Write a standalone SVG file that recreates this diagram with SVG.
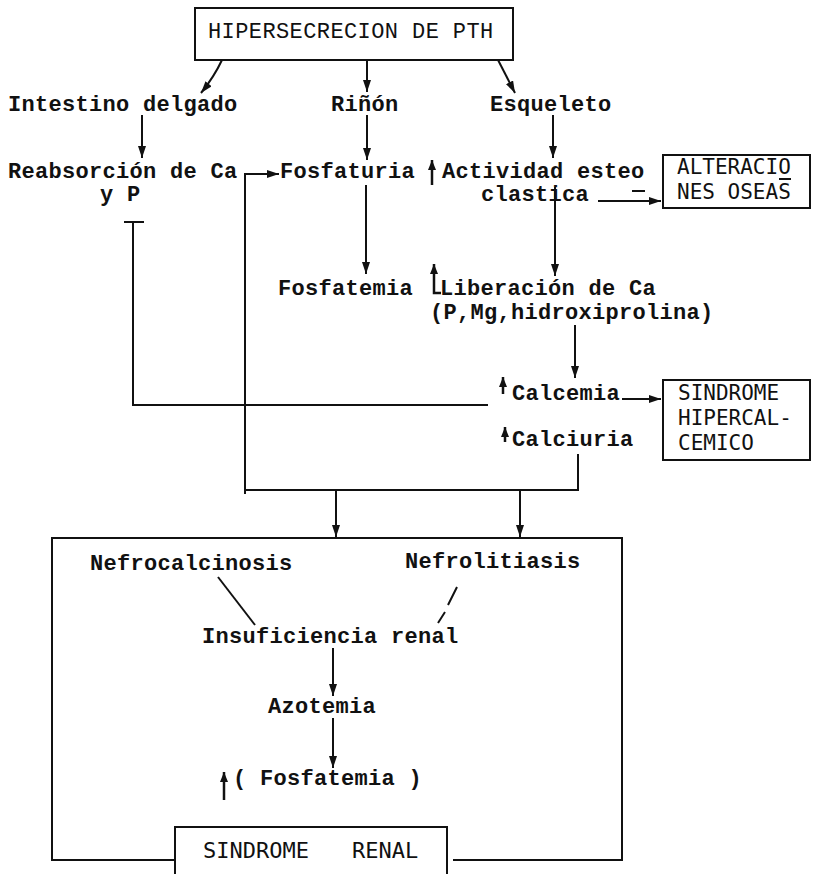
<svg xmlns="http://www.w3.org/2000/svg" width="813" height="874" viewBox="0 0 813 874">
<defs>
<style>
.t{font-family:"Liberation Mono","DejaVu Sans Mono",monospace;font-size:22px;font-weight:bold;letter-spacing:0.3px;fill:#111}
.h{font-family:"Liberation Mono","DejaVu Sans Mono",monospace;font-size:22px;letter-spacing:0.4px;fill:#111}
.b{font-family:"DejaVu Sans Mono","Liberation Mono",monospace;font-size:21px;fill:#111}
.r{font-family:"DejaVu Sans Mono","Liberation Mono",monospace;font-size:22px;fill:#111}
.box{fill:#fff;stroke:#111;stroke-width:2}
.ln{fill:none;stroke:#111;stroke-width:2}
.ar{fill:none;stroke:#111;stroke-width:2;marker-end:url(#ah)}
.up{fill:none;stroke:#111;stroke-width:2.5;marker-end:url(#uh)}
</style>
<marker id="ah" viewBox="0 0 12 8" refX="12" refY="4" markerWidth="12" markerHeight="8" markerUnits="userSpaceOnUse" orient="auto">
<path d="M0,0 L12,4 L0,8 z" fill="#111"/>
</marker>
<marker id="uh" viewBox="0 0 10 8" refX="10" refY="4" markerWidth="10" markerHeight="8" markerUnits="userSpaceOnUse" orient="auto">
<path d="M0,0 L10,4 L0,8 z" fill="#111"/>
</marker>
</defs>
<rect width="813" height="874" fill="#fff"/>

<g id="connectors">
<path class="ar" d="M222,60 Q214,77 201,93"/>
<path class="ar" d="M367,60 V92"/>
<path class="ar" d="M497,58 L515,93"/>
<path class="ar" d="M142,115 V158"/>
<path class="ar" d="M367,115 V160"/>
<path class="ar" d="M553,115 V158"/>
<path class="ar" d="M366,185 V274"/>
<path class="ar" d="M555,187 V276"/>
<path class="ar" d="M598,201 H661"/>
<path class="ar" d="M575,325 V378"/>
<path class="ar" d="M622,399 H661"/>
<path class="ln" d="M578,454 V490 H245"/>
<path class="ar" d="M245,494 V174 H279"/>
<path class="ar" d="M336,490 V537"/>
<path class="ar" d="M520,490 V537"/>
<path class="ln" d="M488,405 H133 V222"/>
<path class="ln" d="M124,222 H144" stroke-width="3"/>
<path class="ln" d="M218,577 L255,625"/>
<path class="ln" d="M457,587 L448,605 M445,612 L438,623"/>
<path class="ar" d="M333,648 V696"/>
<path class="ar" d="M333,718 V768"/>
</g>

<g id="hipersecrecion">
<rect class="box" x="195" y="8" width="318" height="52"/>
<text class="h" x="208" y="38">HIPERSECRECION DE PTH</text>
</g>
<g id="intestino"><text class="t" x="8" y="111">Intestino delgado</text></g>
<g id="rinon"><text class="t" x="331" y="111">Riñón</text></g>
<g id="esqueleto"><text class="t" x="490" y="111">Esqueleto</text></g>
<g id="reabsorcion">
<text class="t" x="8" y="178">Reabsorción de Ca</text>
<text class="t" x="100" y="201">y P</text>
</g>
<g id="fosfaturia"><text class="t" x="280" y="178">Fosfaturia</text></g>
<g id="actividad">
<path class="up" d="M432,185 V160"/>
<text class="t" x="442" y="178">Actividad esteo</text>
<path class="ln" d="M632,191 H645"/>
<text class="t" x="481" y="201">clastica</text>
</g>
<g id="alteraciones">
<rect class="box" x="663" y="155" width="147" height="53"/>
<text class="b" x="677" y="174">ALTERACIO</text>
<path class="ln" d="M779,179 H791" stroke-width="1.5"/>
<text class="b" x="677" y="199">NES OSEAS</text>
</g>
<g id="fosfatemia"><text class="t" x="278" y="295">Fosfatemia</text></g>
<g id="liberacion">
<path class="up" d="M441,293 H434 V264"/>
<text class="t" x="440" y="295">Liberación de Ca</text>
<text class="t" x="430" y="319">(P,Mg,hidroxiprolina)</text>
</g>
<g id="calcemia">
<path class="up" d="M503,394 V377"/>
<text class="t" x="512" y="400">Calcemia</text>
</g>
<g id="calciuria">
<path class="up" d="M505,442 V427"/>
<text class="t" x="512" y="446">Calciuria</text>
</g>
<g id="sindrome-hipercalcemico">
<rect class="box" x="663" y="380" width="147" height="80"/>
<text class="b" x="678" y="400">SINDROME</text>
<text class="b" x="678" y="425">HIPERCAL-</text>
<text class="b" x="678" y="450">CEMICO</text>
</g>
<g id="renal-frame">
<path class="ln" d="M175,860 H52 V538 H622 V860 H453"/>
</g>
<g id="nefrocalcinosis"><text class="t" x="90" y="570">Nefrocalcinosis</text></g>
<g id="nefrolitiasis"><text class="t" x="405" y="568">Nefrolitiasis</text></g>
<g id="insuficiencia"><text class="t" x="202" y="643">Insuficiencia renal</text></g>
<g id="azotemia"><text class="t" x="268" y="713">Azotemia</text></g>
<g id="fosfatemia-2">
<path class="up" d="M224,800 V772"/>
<text class="t" x="233" y="785">( Fosfatemia )</text>
</g>
<g id="sindrome-renal">
<rect class="box" x="175" y="827" width="272" height="60"/>
<text class="r" x="203" y="858">SINDROME</text>
<text class="r" x="352" y="858">RENAL</text>
</g>
</svg>
